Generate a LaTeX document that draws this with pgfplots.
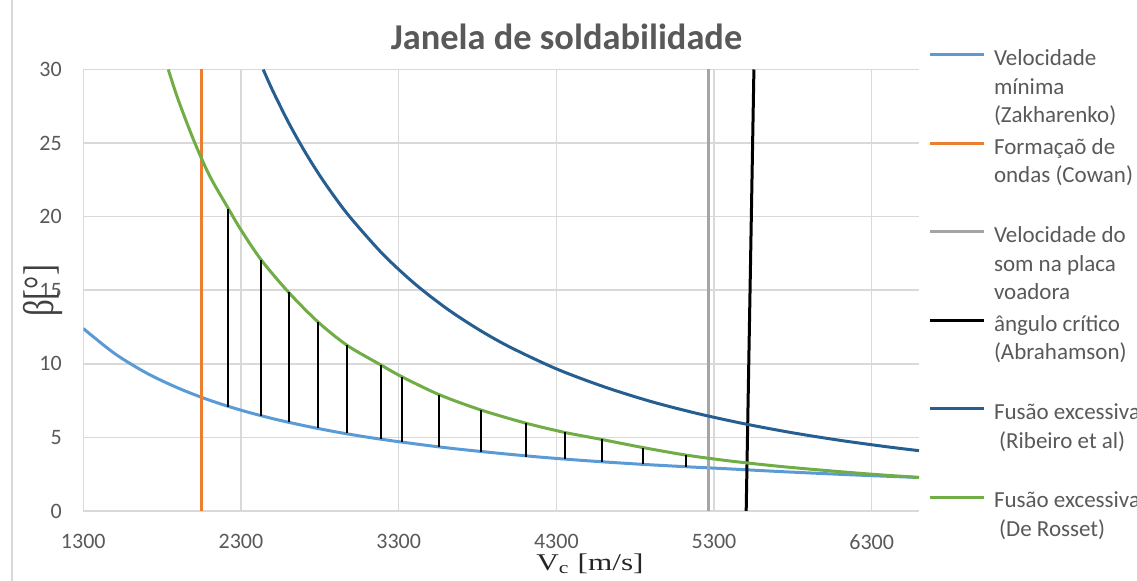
\documentclass[border=0pt]{standalone}
\usepackage{graphicx}
\usepackage{pgfplots}
\pgfplotsset{compat=1.18}
\usepackage{fontspec}
\setmainfont{Carlito}
\newfontfamily\timesfont{Liberation Serif}
\definecolor{cBlue}{HTML}{5B9BD5}
\definecolor{cOrange}{HTML}{ED7D31}
\definecolor{cGrey}{HTML}{A5A5A5}
\definecolor{cDark}{HTML}{255E91}
\definecolor{cGreen}{HTML}{70AD47}
\definecolor{gridgrey}{HTML}{D9D9D9}
\definecolor{tgrey}{HTML}{595959}
\begin{document}
\begin{tikzpicture}
\begin{axis}[
  at={(0,0)}, anchor=south west,
  scale only axis, width=417.85bp, height=220.75bp,
  xmin=1300, xmax=6600, ymin=0, ymax=30,
  xtick={1300,2300,3300,4300,5300,6300},
  ytick={0,5,10,15,20,25,30},
  grid=major,
  major grid style={draw=gridgrey, line width=0.75bp},
  axis line style={draw=none},
  major tick length=0pt,
  tick style={draw=none},
  /pgf/number format/assume math mode=true,
  /pgf/number format/1000 sep={},
  ticklabel style={font=\fontsize{11bp}{13bp}\selectfont, text=tgrey},
  xticklabel style={anchor=north, inner sep=0pt, yshift=-11.5bp},
  yticklabel style={anchor=east, inner sep=0pt, xshift=-10.6bp},
  title={Janela de soldabilidade},
  title style={at={(0.5782,1.0180)}, anchor=base, inner sep=0pt,
    font=\bfseries\fontsize{18.2bp}{20bp}\selectfont, text=tgrey},
  xlabel={\timesfont\scalebox{1.3}[1]{V\textsubscript{c} [m/s]}},
  xlabel style={at={(0.6063,-0.1340)}, anchor=base, inner sep=0pt,
    font=\fontsize{12bp}{14bp}\selectfont, text=black!85},
  ylabel={\timesfont\scalebox{1}[1.3]{β[°]}},
  ylabel style={at={(-0.0482,0.4983)}, anchor=center, inner sep=0pt,
    font=\fontsize{16.5bp}{18bp}\selectfont, text=black!75},
  legend image code/.code={\draw[#1] (0bp,-6.5bp) -- (27bp,-6.5bp);},
  legend style={at={(1.0108,1.0623)}, anchor=north west, draw=none, fill=none,
    inner sep=0pt, outer sep=0pt, column sep=2.5bp, row sep=0.25bp,
    font=\fontsize{11.5bp}{14.25bp}\selectfont, text=tgrey,
    cells={anchor=north west, align=left, inner sep=0pt}},
]
\addplot[cBlue, line width=1.5bp, smooth] coordinates {
 (1300,12.40) (1500,10.69) (1700,9.38) (1900,8.36) (2100,7.53) (2300,6.85)
 (2500,6.28) (2700,5.80) (2900,5.38) (3100,5.02) (3300,4.71) (3600,4.30)
 (3900,3.96) (4200,3.66) (4500,3.41) (4800,3.20) (5100,3.02) (5400,2.86)
 (5700,2.69) (6000,2.54) (6300,2.40) (6600,2.28)};
\addlegendentry{\strut Velocidade\\mínima\\(Zakharenko)\strut}
\addplot[cOrange, line width=1.5bp] coordinates {(2051,0) (2051,30)};
\addlegendentry{\strut Formaçaõ de\\ondas (Cowan)\\\strut}
\addplot[cGrey, line width=1.5bp] coordinates {(5264,0) (5264,30)};
\addlegendentry{\strut Velocidade do\\som na placa\\voadora\strut}
\addplot[black, line width=1.5bp] coordinates {(5504,0) (5553,30)};
\addlegendentry{\strut ângulo crítico\\(Abrahamson)\\\strut}
\addplot[cDark, line width=1.5bp, smooth] coordinates {
 (2441,30.0) (2500,28.59) (2600,26.43) (2700,24.51) (2800,22.79) (2900,21.25)
 (3000,19.86) (3200,17.45) (3400,15.46) (3600,13.79) (3800,12.38) (4000,11.17)
 (4300,9.66) (4600,8.45) (4900,7.44) (5200,6.61) (5500,5.91) (5800,5.31)
 (6100,4.80) (6400,4.36) (6600,4.10)};
\addlegendentry{\strut Fusão excessiva\\\ (Ribeiro et al)\\\strut}
\addplot[cGreen, line width=1.5bp, smooth] coordinates {
 (1839,30.0) (1900,28.0) (2000,25.2) (2100,22.8) (2220,20.55) (2300,19.1)
 (2429,17.05) (2603,14.85) (2788,12.85) (2974,11.25) (3186,9.93) (3321,9.12)
 (3558,7.90) (3820,6.87) (4106,5.97) (4353,5.34) (4588,4.86) (4850,4.31)
 (5122,3.80) (5400,3.40) (5700,3.05) (6000,2.76) (6300,2.50) (6600,2.28)};
\addlegendentry{\strut Fusão excessiva\\\ (De Rosset)\\\strut}
\addplot[black, line width=1bp, forget plot] coordinates {(2220,7.05) (2220,20.55)};
\addplot[black, line width=1bp, forget plot] coordinates {(2429,6.45) (2429,17.05)};
\addplot[black, line width=1bp, forget plot] coordinates {(2603,6.05) (2603,14.85)};
\addplot[black, line width=1bp, forget plot] coordinates {(2788,5.62) (2788,12.85)};
\addplot[black, line width=1bp, forget plot] coordinates {(2974,5.27) (2974,11.25)};
\addplot[black, line width=1bp, forget plot] coordinates {(3186,4.90) (3186,9.93)};
\addplot[black, line width=1bp, forget plot] coordinates {(3321,4.68) (3321,9.12)};
\addplot[black, line width=1bp, forget plot] coordinates {(3558,4.35) (3558,7.90)};
\addplot[black, line width=1bp, forget plot] coordinates {(3820,4.02) (3820,6.87)};
\addplot[black, line width=1bp, forget plot] coordinates {(4106,3.70) (4106,5.97)};
\addplot[black, line width=1bp, forget plot] coordinates {(4353,3.54) (4353,5.34)};
\addplot[black, line width=1bp, forget plot] coordinates {(4588,3.33) (4588,4.86)};
\addplot[black, line width=1bp, forget plot] coordinates {(4850,3.18) (4850,4.31)};
\addplot[black, line width=1bp, forget plot] coordinates {(5122,3.02) (5122,3.80)};
\end{axis}
\draw[gridgrey, line width=0.75bp] (-35.65bp,-35bp) -- (-35.65bp,255.5bp);
\pgfresetboundingbox
\path[use as bounding box] (-41.65bp,-35bp) rectangle (526.85bp,255.5bp);
\end{tikzpicture}
\end{document}
